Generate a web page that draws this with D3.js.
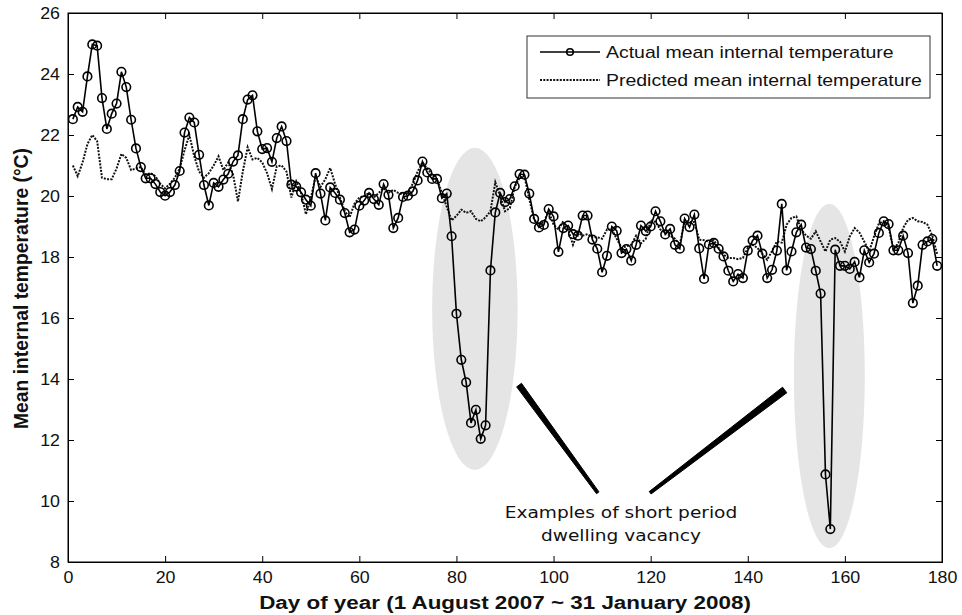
<!DOCTYPE html>
<html><head><meta charset="utf-8">
<script src="https://cdn.jsdelivr.net/npm/d3@7"></script>
<style>body{margin:0;background:#fff}svg{display:block}text{font-family:"Liberation Sans",Arial,sans-serif}</style>
</head><body><svg id="c" width="962" height="615"></svg>
<script>
const actual = [22.52,22.92,22.76,23.92,24.97,24.93,23.21,22.2,22.7,23.03,24.07,23.57,22.5,21.56,20.95,20.58,20.58,20.39,20.13,20.01,
20.13,20.36,20.82,22.08,22.57,22.41,21.35,20.36,19.69,20.43,20.3,20.54,20.73,21.13,21.33,22.52,23.16,23.3,22.12,21.54,
21.57,21.12,21.9,22.28,21.8,20.37,20.31,20.12,19.88,19.68,20.75,20.08,19.2,20.28,20.1,19.88,19.44,18.81,18.9,19.68,
19.85,20.1,19.9,19.71,20.39,20.04,18.95,19.28,19.97,20.01,20.15,20.51,21.13,20.77,20.56,20.56,19.93,20.08,18.68,16.14,
14.63,13.89,12.56,12.99,12.04,12.48,17.56,19.46,20.1,19.8,19.9,20.32,20.72,20.7,20.08,19.25,18.97,19.05,19.57,19.33,
18.17,18.95,19.03,18.75,18.7,19.36,19.36,18.57,18.27,17.5,18.04,19.0,18.86,18.13,18.26,17.88,18.4,19.03,18.85,19.0,
19.5,19.17,18.74,18.92,18.4,18.27,19.26,18.98,19.39,18.28,17.28,18.41,18.46,18.27,18.02,17.55,17.2,17.44,17.31,18.21,
18.54,18.7,18.11,17.31,17.58,18.21,19.74,17.56,18.18,18.81,19.06,18.31,18.26,17.55,16.8,10.87,9.08,18.24,17.71,17.71,
17.61,17.84,17.33,18.22,17.82,18.11,18.79,19.17,19.08,18.22,18.22,18.7,18.13,16.49,17.06,18.4,18.51,18.59,17.71];
const predicted = [21.0,20.65,21.1,21.7,22.0,21.8,20.6,20.55,20.55,20.9,21.38,21.25,20.85,20.9,20.95,20.7,20.75,20.65,20.4,20.25,
20.4,20.6,20.9,21.5,22.0,21.3,20.8,20.6,20.75,21.0,21.3,20.85,21.1,20.7,19.82,20.8,21.6,21.2,21.25,21.1,
20.75,20.23,20.97,21.0,20.8,19.95,20.48,20.1,19.4,19.93,20.64,20.3,20.55,20.92,20.4,19.95,19.5,19.3,19.75,19.95,
20.0,20.1,19.95,20.1,20.25,20.1,20.2,20.1,20.05,20.1,20.4,20.8,21.1,20.9,20.7,20.55,20.1,19.65,19.2,19.35,
19.55,19.45,19.5,19.25,19.17,19.3,19.5,20.45,20.0,19.5,19.6,20.3,20.6,20.65,19.9,19.22,19.05,19.15,19.5,19.06,
18.9,19.17,18.9,18.4,18.8,18.7,18.75,18.65,18.65,18.6,18.9,18.9,18.6,18.3,18.35,18.4,18.7,18.45,18.6,19.2,
19.15,18.9,18.8,18.7,18.6,18.4,19.2,19.15,19.15,18.57,18.55,18.5,18.55,18.3,18.08,17.97,17.97,17.93,17.97,18.3,
18.4,18.3,18.1,17.91,18.2,18.51,18.47,19.06,19.28,19.33,18.9,18.7,18.6,18.84,18.51,18.18,18.57,18.62,18.5,18.18,
18.67,18.95,18.8,18.5,18.18,18.67,19.1,19.17,19.0,18.24,18.46,18.95,19.22,19.28,19.17,19.15,19.06,18.7,18.1];
const xTicks = [0,20,40,60,80,100,120,140,160,180];
const yTicks = [8,10,12,14,16,18,20,22,24,26];
const seriesNames = ["Actual mean internal temperature","Predicted mean internal temperature"];
const xTitle = "Day of year (1 August 2007 ~ 31 January 2008)";
const yTitle = "Mean internal temperature (\u00B0C)";
const noteLines = ["Examples of short period","dwelling vacancy"];
// highlight ellipses: [centerDay, centerTemp, radiusDays, radiusTemp]
const highlights = [[83.8,16.3,8.8,5.28],[156.8,14.1,7.3,5.65]];

const svg = d3.select("#c");
const L=68,R=942,T=13,B=562;
const SX=1.15; // horizontal stretch of the original figure's text
const x = d3.scaleLinear().domain([0,180]).range([L,R]);
const y = d3.scaleLinear().domain([8,26]).range([B,T]);
const days = actual.map((d,i)=>i+1);

svg.append("defs").append("clipPath").attr("id","pc").append("rect")
  .attr("x",L).attr("y",T).attr("width",R-L).attr("height",B-T);

svg.append("g").selectAll("ellipse").data(highlights).join("ellipse")
  .attr("cx",d=>x(d[0])).attr("cy",d=>y(d[1]))
  .attr("rx",d=>x(d[2])-x(0)).attr("ry",d=>y(0)-y(d[3]))
  .attr("fill","#e5e5e5");

// axes with inward ticks
const ax = d3.axisBottom(x).tickValues(xTicks).tickSize(-6).tickPadding(9);
const ay = d3.axisLeft(y).tickValues(yTicks).tickSize(-6).tickPadding(8);
svg.append("g").attr("transform",`translate(0,${B})`).call(ax);
svg.append("g").attr("transform",`translate(${L},0)`).call(ay);
svg.append("g").attr("transform",`translate(0,${T})`).call(d3.axisTop(x).tickValues(xTicks).tickSize(-6).tickFormat(""));
svg.append("g").attr("transform",`translate(${R},0)`).call(d3.axisRight(y).tickValues(yTicks).tickSize(-6).tickFormat(""));
svg.selectAll(".domain").attr("stroke","#000").attr("stroke-width",1);
svg.selectAll(".tick line").attr("stroke","#000");
svg.selectAll(".tick text").attr("font-size",16.5).attr("fill","#111")
  .style("font-family","'Liberation Sans',Arial,sans-serif")
  .each(function(){const t=d3.select(this);const xx=+t.attr("x")||0;
    t.attr("transform",`scale(${1.08},1)`).attr("x",xx/1.08);});
svg.append("rect").attr("x",L).attr("y",T).attr("width",R-L).attr("height",B-T).attr("fill","none").attr("stroke","#000");

const lineP = d3.line().x((d,i)=>x(days[i])).y(d=>y(d));
svg.append("path").datum(predicted).attr("d",lineP).attr("fill","none")
  .attr("stroke","#111").attr("stroke-width",2).attr("stroke-dasharray","2,1.3").attr("clip-path","url(#pc)");
svg.append("path").datum(actual).attr("d",lineP).attr("fill","none")
  .attr("stroke","#000").attr("stroke-width",1.6).attr("clip-path","url(#pc)");
svg.append("g").selectAll("circle").data(actual).join("circle")
  .attr("cx",(d,i)=>x(days[i])).attr("cy",d=>y(d)).attr("r",4.3)
  .attr("fill","none").attr("stroke","#000").attr("stroke-width",1.6);

function wedge(x1,y1,x2,y2,w1,w2){
  const X1=x(x1),Y1=y(y1),X2=x(x2),Y2=y(y2);
  const dx=X2-X1,dy=Y2-Y1,len=Math.hypot(dx,dy),nx=-dy/len,ny=dx/len;
  return `M${X1+nx*w1/2},${Y1+ny*w1/2}L${X2+nx*w2/2},${Y2+ny*w2/2}L${X2-nx*w2/2},${Y2-ny*w2/2}L${X1-nx*w1/2},${Y1-ny*w1/2}Z`;
}
svg.append("path").attr("d",wedge(92.9,13.8,109.1,10.27,6,3)).attr("fill","#000").attr("stroke","#000").attr("stroke-linejoin","round").attr("stroke-width",1);
svg.append("path").attr("d",wedge(119.9,10.27,147.6,13.64,3,7)).attr("fill","#000").attr("stroke","#000").attr("stroke-linejoin","round").attr("stroke-width",1);

function stretchedText(g,tx,ty,str,sx,size,opts={}){
  const t=g.append("text").attr("transform",`translate(${tx},${ty}) scale(${sx},1)`)
    .attr("font-size",size).attr("fill","#111").text(str);
  if(opts.anchor) t.attr("text-anchor",opts.anchor);
  if(opts.weight) t.attr("font-weight",opts.weight);
  if(opts.family) t.style("font-family",opts.family);
  return t;
}
noteLines.forEach((s,i)=>stretchedText(svg,621,518+i*23,s,1.16,16,{anchor:"middle",family:"'DejaVu Sans',sans-serif"}));

// legend
const lg = svg.append("g");
lg.append("rect").attr("x",527).attr("y",36).attr("width",403).attr("height",62).attr("fill","#fff").attr("stroke","#333");
lg.append("line").attr("x1",540).attr("x2",600).attr("y1",52).attr("y2",52).attr("stroke","#000").attr("stroke-width",1.6);
lg.append("circle").attr("cx",570).attr("cy",52).attr("r",3.3).attr("fill","none").attr("stroke","#000").attr("stroke-width",1.6);
lg.append("line").attr("x1",540).attr("x2",600).attr("y1",80).attr("y2",80).attr("stroke","#111").attr("stroke-width",2).attr("stroke-dasharray","2,1.3");
seriesNames.forEach((s,i)=>stretchedText(lg,606,58+i*28,s,1.145,17));

// titles
stretchedText(svg,505,609,xTitle,1.18,19,{anchor:"middle",weight:"bold"});
svg.append("text").attr("transform",`translate(28,${(T+B)/2+1}) rotate(-90)`).attr("text-anchor","middle").attr("font-size",19.3).attr("font-weight","bold").attr("fill","#111").text(yTitle);
</script></body></html>
